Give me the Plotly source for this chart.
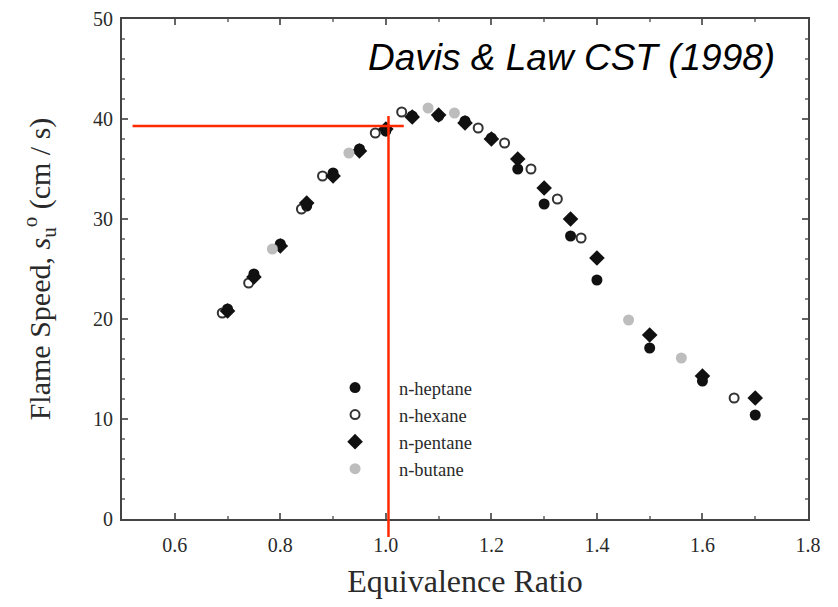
import plotly.graph_objects as go

# ---- data ----
heptane_phi = [0.70, 0.75, 0.80, 0.85, 0.90, 0.95, 1.00, 1.05, 1.10, 1.15, 1.20, 1.25, 1.30, 1.35, 1.40, 1.50, 1.60, 1.70]
heptane_su = [21.0, 24.5, 27.5, 31.3, 34.6, 37.0, 38.8, 40.3, 40.3, 39.8, 38.1, 35.0, 31.5, 28.3, 23.9, 17.1, 13.8, 10.4]

hexane_phi = [0.69, 0.74, 0.84, 0.88, 0.98, 1.03, 1.175, 1.225, 1.275, 1.325, 1.37, 1.66]
hexane_su = [20.6, 23.6, 31.0, 34.3, 38.6, 40.7, 39.1, 37.6, 35.0, 32.0, 28.1, 12.1]

pentane_phi = [0.70, 0.75, 0.80, 0.85, 0.90, 0.95, 1.00, 1.05, 1.10, 1.15, 1.20, 1.25, 1.30, 1.35, 1.40, 1.50, 1.60, 1.70]
pentane_su = [20.8, 24.2, 27.3, 31.6, 34.3, 36.8, 39.0, 40.2, 40.4, 39.6, 38.0, 36.0, 33.1, 30.0, 26.1, 18.4, 14.3, 12.1]

butane_phi = [0.785, 0.93, 1.08, 1.13, 1.46, 1.56]
butane_su = [27.0, 36.6, 41.1, 40.6, 19.9, 16.1]

series_names = ["n-heptane", "n-hexane", "n-pentane", "n-butane"]

x_range = [0.5, 1.8]
y_range = [0, 50]
x_ticks = [0.6, 0.8, 1.0, 1.2, 1.4, 1.6, 1.8]
x_ticklabels = ["0.6", "0.8", "1.0", "1.2", "1.4", "1.6", "1.8"]
y_ticks = [0, 10, 20, 30, 40, 50]

# crosshair marking stoichiometric point
cross_phi = 1.005
cross_su = 39.3
h_line_start = 0.52
h_line_end = 1.034
v_line_top = 40.3
v_line_bottom = -1.8

serif = "Liberation Serif, Times New Roman, serif"
pad = "\u00a0\u00a0\u00a0"

fig = go.Figure()
fig.add_trace(go.Scatter(x=heptane_phi, y=heptane_su, mode="markers", name=pad + series_names[0],
                         marker=dict(symbol="circle", size=11, color="#111111")))
fig.add_trace(go.Scatter(x=hexane_phi, y=hexane_su, mode="markers", name=pad + series_names[1],
                         marker=dict(symbol="circle-open", size=9, color="#333333", line=dict(width=2))))
fig.add_trace(go.Scatter(x=pentane_phi, y=pentane_su, mode="markers", name=pad + series_names[2],
                         marker=dict(symbol="diamond", size=12, color="#111111")))
fig.add_trace(go.Scatter(x=butane_phi, y=butane_su, mode="markers", name=pad + series_names[3],
                         marker=dict(symbol="circle", size=11, color="#bdbdbd")))


def px(v):
    return (v - x_range[0]) / (x_range[1] - x_range[0])


def py(v):
    return (v - y_range[0]) / (y_range[1] - y_range[0])


red = "#ff2a00"
fig.add_shape(type="line", xref="paper", yref="paper",
              x0=px(h_line_start), x1=px(h_line_end), y0=py(cross_su), y1=py(cross_su),
              line=dict(color=red, width=2.5))
fig.add_shape(type="line", xref="paper", yref="paper",
              x0=px(cross_phi), x1=px(cross_phi), y0=py(v_line_bottom), y1=py(v_line_top),
              line=dict(color=red, width=2.5))

fig.add_annotation(text="<i>Davis &amp; Law CST (1998)</i>", xref="paper", yref="paper",
                   x=0.955, y=0.922, xanchor="right", yanchor="middle", showarrow=False,
                   font=dict(family="Liberation Sans, Arial, sans-serif", size=37, color="black"))

axis_common = dict(showline=True, linecolor="#444444", linewidth=2, mirror="ticks",
                   ticks="inside", ticklen=6, tickcolor="#666666", tickwidth=1.5,
                   showgrid=False, zeroline=False, automargin=False,
                   ticklabeloverflow="allow",
                   tickfont=dict(family=serif, size=20, color="#2a2a2a"))

fig.update_xaxes(range=x_range, tickvals=x_ticks, ticktext=x_ticklabels,
                 minor=dict(dtick=0.1, tick0=0.5, ticks="inside", ticklen=3, tickcolor="#888888"),
                 ticklabelstandoff=7,
                 title=dict(text="Equivalence Ratio", font=dict(family=serif, size=32, color="#2a2a2a"),
                            standoff=15),
                 **axis_common)
fig.update_yaxes(range=y_range, tickvals=y_ticks,
                 minor=dict(dtick=2, ticks="inside", ticklen=3, tickcolor="#888888"),
                 ticklabelstandoff=3,
                 title=dict(text="Flame Speed, <i>s</i><sub>u</sub><sup>o</sup> (cm / s)",
                            font=dict(family=serif, size=30, color="#2a2a2a"), standoff=34),
                 **axis_common)

fig.update_layout(
    width=830, height=599,
    margin=dict(l=114, r=30, t=11, b=88, autoexpand=False),
    paper_bgcolor="white", plot_bgcolor="white",
    showlegend=True,
    legend=dict(x=0.296, y=0.30, xanchor="left", yanchor="top",
                font=dict(family=serif, size=18.5, color="#2a2a2a"),
                bgcolor="rgba(0,0,0,0)", tracegroupgap=0, itemwidth=50),
)

fig.write_html("out.html")
